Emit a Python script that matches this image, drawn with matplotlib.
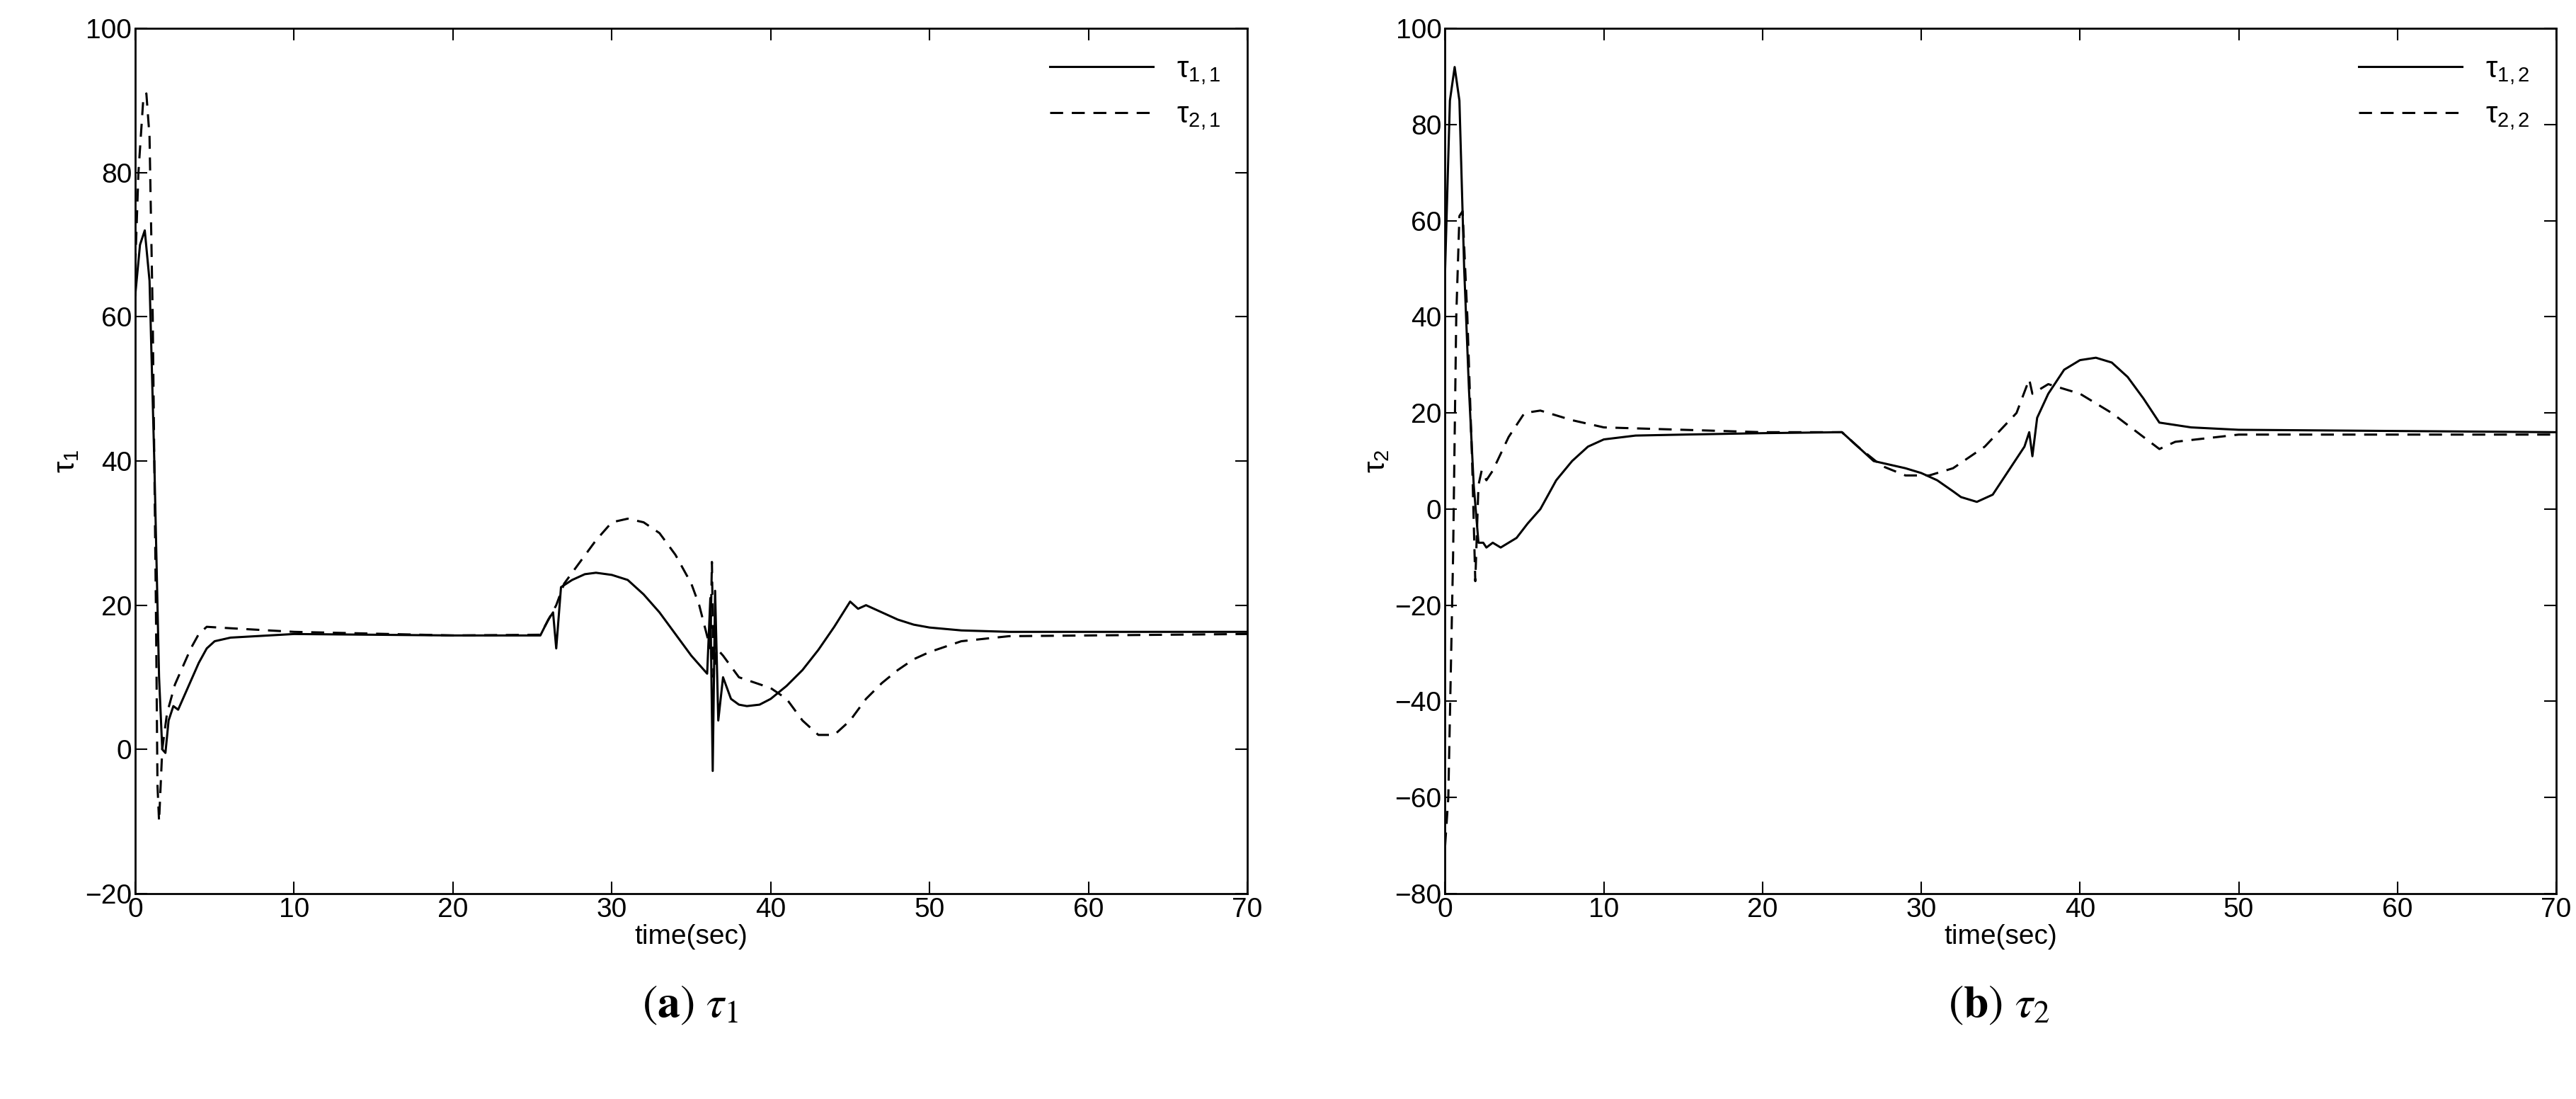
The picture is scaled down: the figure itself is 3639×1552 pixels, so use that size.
import matplotlib
matplotlib.use("Agg")
import matplotlib.pyplot as plt

t11 = [0,0.3,0.6,0.9,1.2,1.4,1.5,1.7,1.9,2.1,2.4,2.7,3,3.5,4,4.5,5,6,10,20,25.5,26,26.3,26.5,26.8,27.5,28.3,29,30,31,32,33,34,35,36,36.2,36.35,36.5,36.7,37,37.5,38,38.5,39.3,40,41,42,43,44,45,45.5,46,47,48,49,50,52,55,70]
y11 = [63,70,72,65,40,20,10,0,-0.5,4,6,5.5,7,9.5,12,14,15,15.5,16,15.8,15.8,18,19,14,22.5,23.5,24.3,24.5,24.2,23.5,21.5,19,16,13,10.5,21,-3,22,4,10,7,6.2,6,6.2,7,8.8,11,13.8,17,20.5,19.5,20,19,18,17.3,16.9,16.5,16.3,16.3]
t21 = [0,0.2,0.5,0.7,0.9,1.1,1.3,1.4,1.5,1.7,2,2.5,3,3.5,4,4.5,6,10,20,25.5,26.5,27,28,29,30,31,32,33,34,35,35.5,36.2,36.3,36.4,36.6,37,38,40,41,42,43,44,45,46,47,48,49,50,52,55,70]
y21 = [67,80,90,91,85,60,20,-5,-10,0,5,9,11.5,14,16,17,16.8,16.3,15.8,15.9,20,23,26,29,31.5,32,31.5,30,27,23,20,14,26,10,14,13,10,8.5,7,4,2,2,4,7,9.2,11,12.5,13.5,15,15.7,16]
t12 = [0,0.3,0.6,0.9,1.2,1.5,1.8,2.1,2.4,2.6,3,3.5,4.5,5.2,6,7,8,9,10,12,15,20,25,26,27,29,30,31,32,32.5,33.5,34.5,35.5,36.5,36.8,37,37.3,38,39,40,41,42,43,44,45,47,50,70]
y12 = [50,85,92,85,50,25,5,-7,-7,-8,-7,-8,-6,-3,0,6,10,13,14.5,15.3,15.5,15.8,16,13,10,8.5,7.5,6,3.7,2.5,1.5,3,8,13,16,11,19,24,29,31,31.5,30.5,27.5,23,18,17,16.5,16]
t22 = [0,0.2,0.5,0.7,0.9,1.1,1.4,1.7,1.9,2.1,2.3,2.6,3,4,5,6,8,10,20,25,26,27.5,29,30.5,32,34,36,36.8,37,38,40,42,44,45,46,50,70]
y22 = [-70,-60,-10,40,61,62,40,10,-15,5,8,6,8,15,20,20.5,18.5,17,16,16,13,9,7,7,8.5,13,20,27,24,26,24,20,15,12.5,14,15.5,15.5]

plt.rcParams['font.family'] = ['Liberation Sans', 'DejaVu Sans']
plt.rcParams['mathtext.fontset'] = 'stix'
fig = plt.figure(figsize=(36.39, 15.52), dpi=100)
ax1 = fig.add_axes([0.0525, 0.187, 0.4317, 0.787])
ax2 = fig.add_axes([0.561, 0.187, 0.4313, 0.787])

def style(ax, ylim, yt, ylab, labs, data):
    (ta, ya), (tb, yb) = data
    ax.plot(ta, ya, 'k-', lw=2.2, label=labs[0])
    ax.plot(tb, yb, 'k--', lw=2.2, dashes=(6, 4), label=labs[1])
    ax.set_xlim(0, 70); ax.set_ylim(*ylim)
    ax.set_xticks(range(0, 71, 10)); ax.set_yticks(yt)
    ax.set_yticklabels([str(v).replace('-', '\u2212') for v in yt])
    ax.tick_params(direction='in', top=True, right=True, labelsize=28, length=12, width=1.5)
    for s in ax.spines.values(): s.set_linewidth(2)
    ax.set_xlabel('time(sec)', fontsize=28, labelpad=2)
    ax.set_ylabel(ylab, fontsize=30)
    ax.legend(loc='upper right', frameon=False, fontsize=30, handlelength=3.5)

style(ax1, (-20, 100), range(-20, 101, 20), r'$\mathregular{\tau_1}$',
      [r'$\mathregular{\tau_{1,1}}$', r'$\mathregular{\tau_{2,1}}$'], [(t11, y11), (t21, y21)])
style(ax2, (-80, 100), range(-80, 101, 20), r'$\mathregular{\tau_2}$',
      [r'$\mathregular{\tau_{1,2}}$', r'$\mathregular{\tau_{2,2}}$'], [(t12, y12), (t22, y22)])

fig.text(0.268, 0.085, r'($\mathbf{a}$) $\tau_1$', ha='center', va='center', fontsize=46, family='STIXGeneral')
fig.text(0.776, 0.085, r'($\mathbf{b}$) $\tau_2$', ha='center', va='center', fontsize=46, family='STIXGeneral')
fig.savefig('out.png', dpi=100)
